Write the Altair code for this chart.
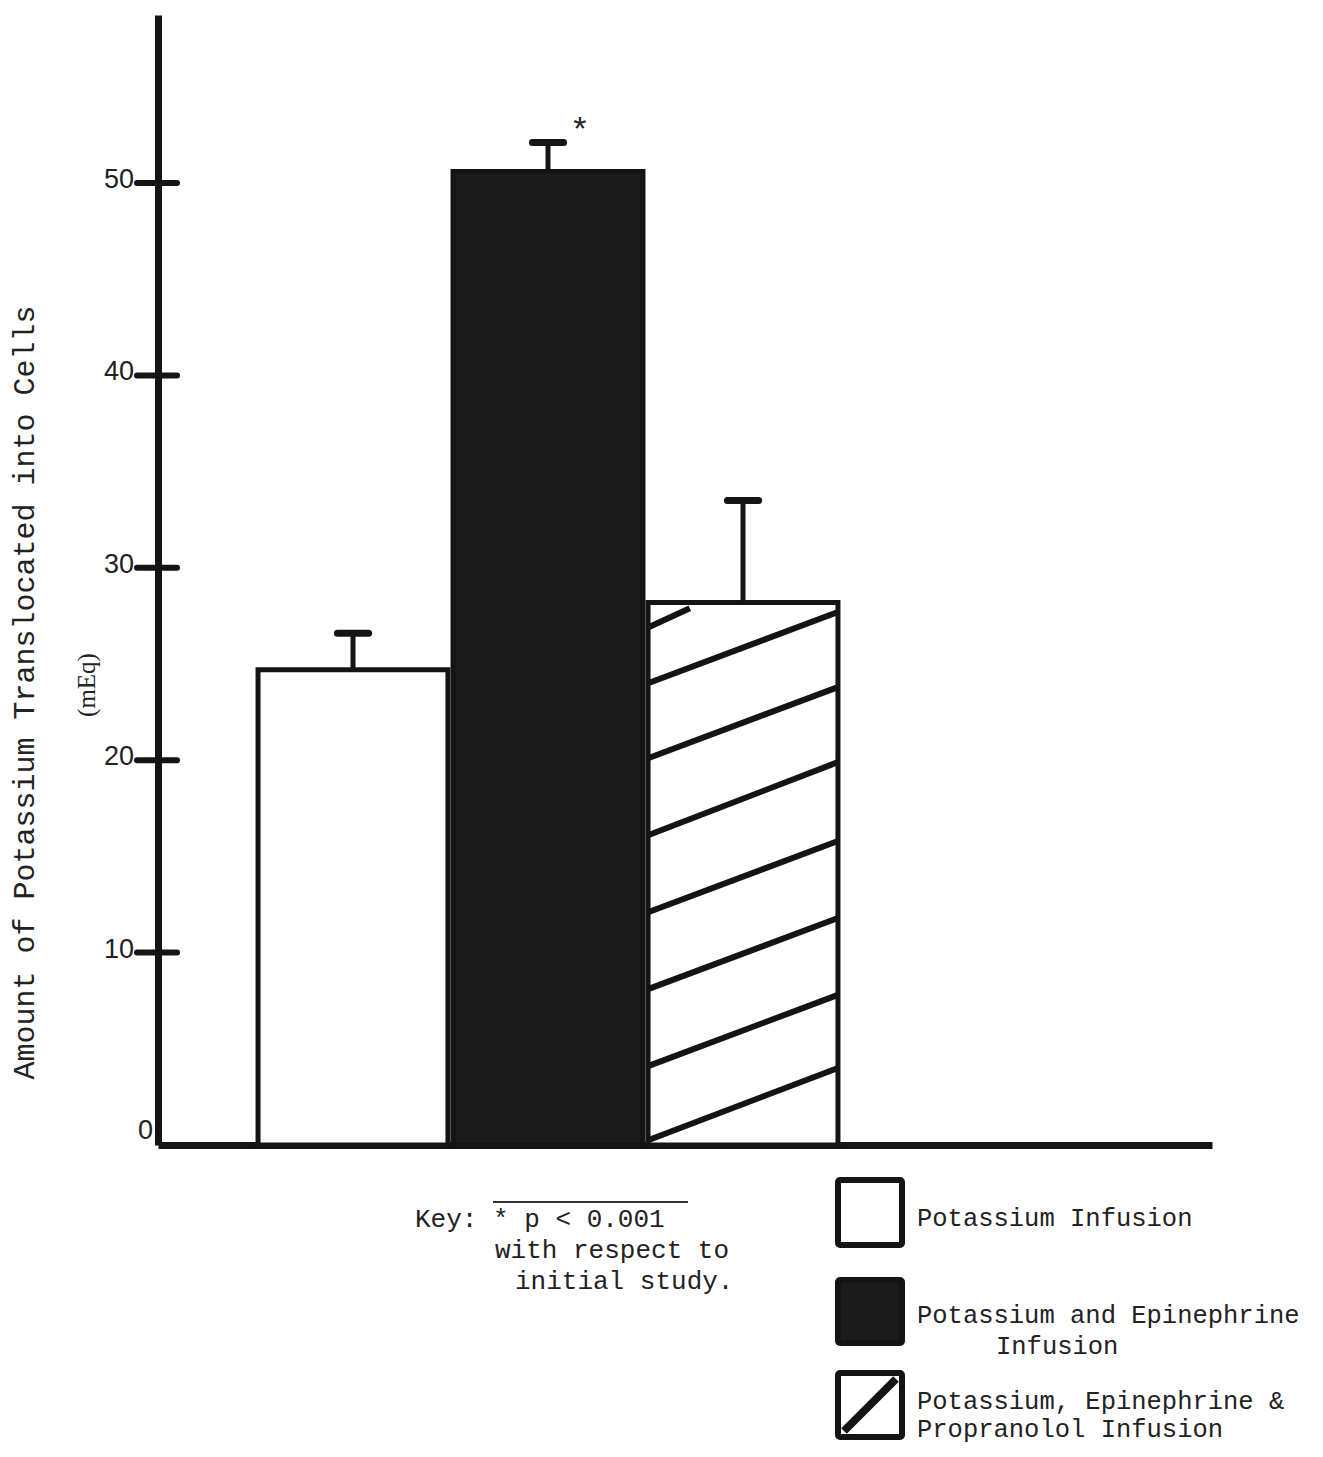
import altair as alt
import pandas as pd

# ---------------- data ----------------
groups = ["Potassium Infusion",
          "Potassium and Epinephrine Infusion",
          "Potassium, Epinephrine & Propranolol Infusion"]
bar_pos = [1, 2, 3]
means = [24.7, 50.6, 28.2]
upper = [26.6, 52.1, 33.5]
bar_fill = ["#ffffff", "#1b1b1b", "#ffffff"]
y_tick_values = [0, 10, 20, 30, 40, 50]
# hatch lines of the third bar: value at left edge, value at right edge, fraction of width
hatch_low = [0.25, 4.1, 8.1, 12.1, 16.1, 20.1, 24.0, 26.9]
hatch_high = [4.0, 7.8, 11.8, 15.8, 19.9, 23.8, 27.7, 27.9]
hatch_span = [1, 1, 1, 1, 1, 1, 1, 0.22]
sig_pos = 2
sig_y = 52.2

# ---------------- layout / style ----------------
W, H = 1054, 1130
PX_X, PX_Y = 195.0, 19.24
X_MAX, Y_MAX = W / PX_X, H / PX_Y
HALF = 0.487
CAP = 0.08
INK = "#141414"
MONO = "Liberation Mono"

xs = alt.Scale(domain=[0, X_MAX], nice=False, zero=False)
ys = alt.Scale(domain=[0, Y_MAX], nice=False, zero=False)

bars_df = pd.DataFrame({
    "group": groups, "pos": bar_pos, "mean": means, "upper": upper,
    "fill": bar_fill,
})
bars_df["xl"] = bars_df["pos"] - HALF
bars_df["xr"] = bars_df["pos"] + HALF
bars_df["zero"] = 0.0
bars_df["capl"] = bars_df["pos"] - CAP
bars_df["capr"] = bars_df["pos"] + CAP

hx0 = bar_pos[2] - HALF
hatch_df = pd.DataFrame({"lo": hatch_low, "hi": hatch_high, "span": hatch_span})
hatch_df["x1"] = hx0
hatch_df["x2"] = hx0 + hatch_df["span"] * 2 * HALF

ticks_df = pd.DataFrame({"v": y_tick_values})
ticks_df["label"] = ticks_df["v"].astype(str)

bars = alt.Chart(bars_df).mark_rect(stroke=INK, strokeWidth=5).encode(
    x=alt.X("xl:Q", scale=xs,
            axis=alt.Axis(labels=False, ticks=False, grid=False, title=None,
                          domainWidth=7, domainColor=INK)),
    x2="xr:Q",
    y=alt.Y("zero:Q", scale=ys,
            axis=alt.Axis(labels=False, ticks=False, tickSize=0, grid=False,
                          domainWidth=7, domainColor=INK,
                          title="Amount of Potassium Translocated into Cells",
                          titleFont=MONO, titleFontSize=30, titleFontWeight="normal",
                          titleColor="#222", titleAngle=270, titleX=-125, titleY=677,
                          titleAlign="center", titleBaseline="alphabetic")),
    y2="mean:Q",
    fill=alt.Fill("fill:N", scale=None),
)

hatch = alt.Chart(hatch_df).mark_rule(color=INK, strokeWidth=6).encode(
    x=alt.X("x1:Q", scale=xs), x2="x2:Q",
    y=alt.Y("lo:Q", scale=ys), y2="hi:Q",
)

stems = alt.Chart(bars_df).mark_rule(color=INK, strokeWidth=5).encode(
    x=alt.X("pos:Q", scale=xs),
    y=alt.Y("mean:Q", scale=ys), y2="upper:Q",
)

caps = alt.Chart(bars_df).mark_rule(color=INK, strokeWidth=7, strokeCap="round").encode(
    x=alt.X("capl:Q", scale=xs), x2="capr:Q",
    y=alt.Y("upper:Q", scale=ys),
)

yticks = alt.Chart(ticks_df[ticks_df["v"] > 0]).mark_rule(
    color=INK, strokeWidth=6, strokeCap="round").encode(
    x=alt.value(-21), x2=alt.value(19),
    y=alt.Y("v:Q", scale=ys),
)

ylabels = alt.Chart(ticks_df[ticks_df["v"] > 0]).mark_text(
    align="right", baseline="middle", font="Liberation Sans", fontSize=27,
    color="#222", dy=-3).encode(
    x=alt.value(-24), y=alt.Y("v:Q", scale=ys), text="label:N",
)

zlabel = alt.Chart(ticks_df[ticks_df["v"] == 0]).mark_text(
    align="right", baseline="bottom", font="Liberation Sans", fontSize=27,
    color="#222").encode(
    x=alt.value(-5), y=alt.Y("v:Q", scale=ys), text="label:N",
)

star = alt.Chart(pd.DataFrame({"pos": [sig_pos], "y": [sig_y]})).mark_text(
    text="*", font=MONO, fontSize=34, color="#222", align="center",
    baseline="alphabetic", dx=0.164 * PX_X).encode(
    x=alt.X("pos:Q", scale=xs), y=alt.Y("y:Q", scale=ys),
)

one = pd.DataFrame({"a": [0]})


def txt(s, x, y, font=MONO, size=25.5, align="left", angle=0, baseline="alphabetic"):
    kw = dict(text=s, font=font, fontSize=size, align=align, baseline=baseline,
              color="#222")
    if angle:
        kw["angle"] = angle
    return alt.Chart(one).mark_text(**kw).encode(x=alt.value(x), y=alt.value(y))


def box(x0, y0, x1, y1, fill):
    return alt.Chart(one).mark_rect(fill=fill, stroke=INK, strokeWidth=6,
                                    cornerRadius=2).encode(
        x=alt.value(x0), x2=alt.value(x1), y=alt.value(y0), y2=alt.value(y1))


unit = txt("(mEq)", -63, 670, font="Liberation Serif", size=25, align="center", angle=270)

key_line = alt.Chart(one).mark_rule(color="#333", strokeWidth=2).encode(
    x=alt.value(335), x2=alt.value(530), y=alt.value(1187))
key1 = txt("Key: *  p < 0.001", 257, 1212, size=26)
key2 = txt("with respect to", 337, 1243, size=26)
key3 = txt("initial study.", 357, 1274, size=26)

lb1 = box(680, 1165, 744, 1230, bar_fill[0])
lb2 = box(680, 1265, 744, 1328, bar_fill[1])
lb3 = box(680, 1358, 744, 1422, bar_fill[2])
diag = alt.Chart(one).mark_rule(color=INK, strokeWidth=8).encode(
    x=alt.value(686), x2=alt.value(738), y=alt.value(1416), y2=alt.value(1364))
lt1 = txt("Potassium Infusion", 759, 1211)
lt2a = txt("Potassium and Epinephrine", 759, 1308)
lt2b = txt("Infusion", 838, 1339)
lt3a = txt("Potassium, Epinephrine &", 759, 1394)
lt3b = txt("Propranolol Infusion", 759, 1422)

chart = alt.layer(
    bars, hatch, stems, caps, yticks, ylabels, zlabel, star, unit,
    key_line, key1, key2, key3,
    lb1, lb2, lb3, diag, lt1, lt2a, lt2b, lt3a, lt3b,
).properties(
    width=W, height=H,
    autosize=alt.AutoSizeParams(type="none"),
    padding={"left": 150, "top": 7, "right": 103, "bottom": 304},
    background="white",
).configure_view(stroke=None)

chart.save("out.html", embed_options={"renderer": "svg", "actions": False})
